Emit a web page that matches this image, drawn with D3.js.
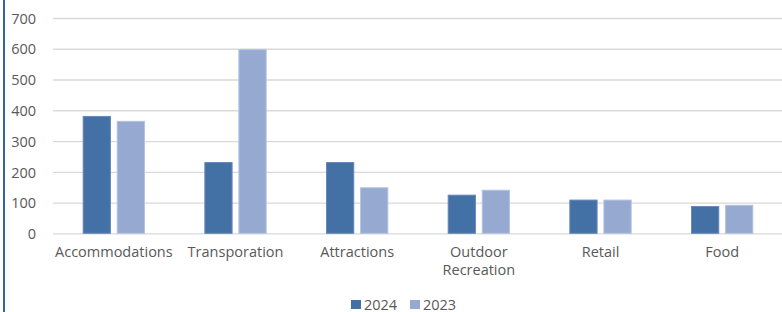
<!DOCTYPE html>
<html>
<head>
<meta charset="utf-8">
<script src="https://cdn.jsdelivr.net/npm/d3@7"></script>
<style>
  body { margin: 0; background: #fff; }
  svg { display: block; }
  svg text { font-family: "Open Sans", sans-serif; }
</style>
</head>
<body>
<svg id="chart"></svg>
<script>
// chart data
var categories = ["Accommodations", "Transporation", "Attractions", "Outdoor Recreation", "Retail", "Food"];
var series = ["2024", "2023"];
var values2024 = [380, 230, 230, 124, 108, 87];
var values2023 = [364, 597, 148, 140, 108, 91];
var yTicks = [0, 100, 200, 300, 400, 500, 600, 700];

var svgWidth = 782;
var svgHeight = 312;
var plotLeft = 53, plotRight = 783, plotTop = 18, plotBottom = 233.3;
var colors = { "2024": "#4471a5", "2023": "#95a9d1" };
var strokes = { "2024": "#6788b8", "2023": "#b3c2e0" };
var textColor = "#595959";

var svg = d3.select("#chart")
  .attr("width", svgWidth)
  .attr("height", svgHeight);

// left border line
svg.append("line")
  .attr("x1", 4).attr("x2", 4)
  .attr("y1", 0).attr("y2", svgHeight)
  .attr("stroke", "#3561a8")
  .attr("stroke-width", 2);

var x0 = d3.scaleBand()
  .domain(categories)
  .range([plotLeft, plotRight])
  .paddingInner(0.496)
  .paddingOuter(0.248);

var x1 = d3.scaleBand()
  .domain(series)
  .range([0, x0.bandwidth()])
  .paddingInner(0.2);

var y = d3.scaleLinear()
  .domain([0, 700])
  .range([plotBottom, plotTop]);

// gridlines + y labels
var yAxis = d3.axisLeft(y)
  .tickValues(yTicks)
  .tickSize(-(plotRight - plotLeft))
  .tickPadding(17);

var gy = svg.append("g")
  .attr("transform", "translate(" + plotLeft + ",0)")
  .call(yAxis)
  .attr("font-family", null);
gy.select(".domain").remove();
gy.selectAll(".tick line")
  .attr("stroke", "#d9d9d9")
  .attr("stroke-width", 1.3);
gy.selectAll(".tick text")
  .attr("fill", textColor)
  .attr("font-size", "14.5px")
  .attr("dy", "0.36em");

// bars
var groups = svg.selectAll("g.cat")
  .data(categories)
  .enter()
  .append("g")
  .attr("class", "cat")
  .attr("transform", function (d) { return "translate(" + x0(d) + ",0)"; });

groups.selectAll("rect")
  .data(function (d, i) {
    return [
      { key: "2024", value: values2024[i] },
      { key: "2023", value: values2023[i] }
    ];
  })
  .enter()
  .append("rect")
  .attr("x", function (d) { return x1(d.key); })
  .attr("y", function (d) { return y(d.value); })
  .attr("width", x1.bandwidth())
  .attr("height", function (d) { return y(0) - y(d.value); })
  .attr("fill", function (d) { return colors[d.key]; })
  .attr("stroke", function (d) { return strokes[d.key]; })
  .attr("stroke-width", 1);

// category labels
var xAxis = d3.axisBottom(x0).tickSize(0).tickPadding(0);
var gx = svg.append("g")
  .attr("transform", "translate(0," + plotBottom + ")")
  .call(xAxis)
  .attr("font-family", null);
gx.select(".domain").remove();
gx.selectAll(".tick text").remove();
gx.selectAll(".tick").each(function (d) {
  var words = d === "Outdoor Recreation" ? ["Outdoor", "Recreation"] : [d];
  var t = d3.select(this).append("text")
    .attr("fill", textColor)
    .attr("font-size", "14.5px")
    .attr("text-anchor", "middle");
  words.forEach(function (w, i) {
    t.append("tspan").attr("x", 0).attr("y", 24 + i * 18).text(w);
  });
});

// legend
var legend = svg.append("g").attr("transform", "translate(351,300)");
var legendX = [0, 59];
series.forEach(function (s, i) {
  var g = legend.append("g").attr("transform", "translate(" + legendX[i] + ",0)");
  g.append("rect")
    .attr("width", 10).attr("height", 9)
    .attr("fill", colors[s]);
  g.append("text")
    .attr("x", 13).attr("y", 9.5)
    .attr("fill", textColor)
    .attr("font-size", "14.5px")
    .text(s);
});
</script>
</body>
</html>
